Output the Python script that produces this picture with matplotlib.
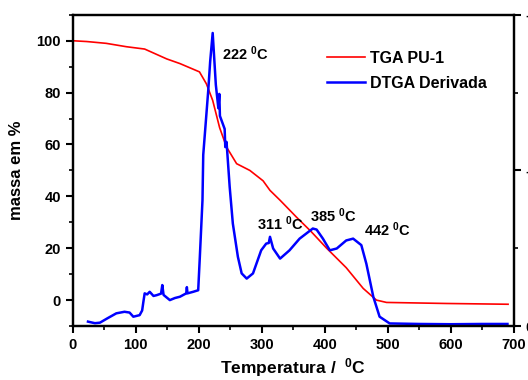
import matplotlib.pyplot as plt
from matplotlib.ticker import MultipleLocator

plt.rcParams['font.family'] = 'Liberation Sans'
plt.rcParams['font.weight'] = 'bold'
plt.rcParams['mathtext.fontset'] = 'custom'
plt.rcParams['mathtext.rm'] = 'Liberation Sans:bold'
plt.rcParams['mathtext.default'] = 'rm'

# TGA curve (massa em %)
tga_temp = [0, 22, 53, 85, 114, 149, 170, 201, 212, 222, 233, 244, 260, 281,
            302, 313, 329, 355, 378, 403, 434, 461, 482, 498, 593, 691]
tga_mass = [100, 99.7, 99, 97.7, 96.8, 93, 91.2, 88, 83.4, 77, 66.5, 59, 52.6, 50,
            46, 42.3, 38.5, 32, 26.5, 20, 12.5, 4.5, 0, -0.9, -1.3, -1.6]

# DTGA curve, read in left-axis units
dtga_temp = [24, 35, 43, 55, 69, 82, 90, 96, 106, 110, 112, 114, 118, 122, 128, 133,
             140, 142, 144, 154, 162, 170, 180, 181, 182, 191, 199, 201.6, 205.8,
             207, 215, 218, 222, 227, 231, 232.5, 233.5, 238, 241, 242, 244, 249,
             254, 262, 268, 276, 286, 299, 307, 311, 313, 318, 329, 344, 360, 381,
             387, 397, 408, 419, 434, 445, 458, 466, 477, 487, 503, 550, 600, 650, 690]
dtga_val = [-8.3, -8.9, -8.7, -7, -5.1, -4.5, -4.8, -6.4, -5.8, -4, -0.6, 2.6, 2.2, 3.2,
            1.6, 1.9, 2.5, 5.8, 2, 0, 0.8, 1.3, 2.6, 5, 2.6, 3.2, 3.8, 16.7, 38.5,
            56, 81, 92, 103, 83, 74, 79.5, 71, 68, 66, 59, 61, 43.6,
            29.5, 16.7, 10.3, 8.3, 10.3, 19.2, 21.8, 22, 24.4, 19.9, 16, 19.2, 23.7, 27.6,
            27.2, 23.7, 19.2, 19.9, 23, 23.7, 21.2, 14, 1.3, -6.4, -9, -9.2, -9.3, -9.2, -9.2]

peaks = ['222 $^0$C', '311 $^0$C', '385 $^0$C', '442 $^0$C']
peak_pos = [(237, 95), (292, 29.6), (376, 32.7), (463, 27)]

fig = plt.figure(figsize=(5.28, 3.80), dpi=100)
ax = fig.add_axes([0.138, 0.142, 0.835, 0.819])

ax.plot(tga_temp, tga_mass, color='#ff0000', lw=1.2, label='TGA PU-1')
ax.plot(dtga_temp, dtga_val, color='#0000ff', lw=1.8, label='DTGA Derivada')

for txt, (x, y) in zip(peaks, peak_pos):
    ax.text(x, y, txt, fontsize=10.5, fontweight='bold', va='center', ha='left')

ax.set_xlim(0, 700)
ax.set_ylim(-10, 110)
ax.xaxis.set_major_locator(MultipleLocator(100))
ax.xaxis.set_minor_locator(MultipleLocator(50))
ax.set_yticks([0, 20, 40, 60, 80, 100])
ax.yaxis.set_minor_locator(MultipleLocator(10))
ax.tick_params(which='major', direction='out', length=5, width=1.5, labelsize=10.5)
ax.tick_params(which='minor', direction='out', length=3, width=1.2)
for s in ax.spines.values():
    s.set_linewidth(1.6)

ax.set_xlabel('Temperatura /  $^0$C', fontsize=12.5, fontweight='bold', labelpad=3)
ax.set_ylabel('massa em %', fontsize=12, fontweight='bold', labelpad=9)

ax2 = ax.twinx()
ax2.set_ylim(0, -2)
ax2.set_yticks([0, -1, -2])
ax2.set_yticklabels(['0', '-1', '-2'])
ax2.yaxis.set_minor_locator(MultipleLocator(0.5))
ax2.tick_params(which='major', direction='out', length=5, width=1.5, labelsize=10.5)
ax2.tick_params(which='minor', direction='out', length=3, width=1.2)
for s in ax2.spines.values():
    s.set_linewidth(1.6)

ax.legend(loc='upper left', bbox_to_anchor=(0.576, 0.885), frameon=False,
          prop={'size': 11.5, 'weight': 'bold'}, handlelength=2.4,
          handletextpad=0.3, labelspacing=0.65, borderpad=0, borderaxespad=0)

fig.savefig('out.png', dpi=100)
